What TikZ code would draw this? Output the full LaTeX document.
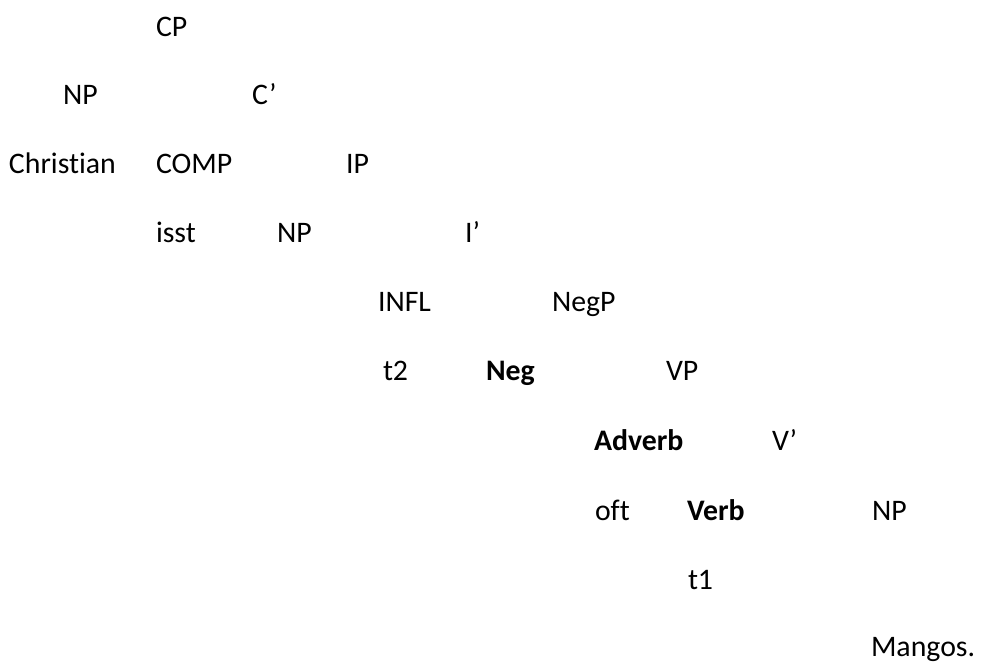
\documentclass[tikz,border=0pt]{standalone}
\usepackage{fontspec}
\setmainfont{Carlito}[Ligatures={NoCommon}]
\begin{document}
\begin{tikzpicture}[x=1pt,y=1pt,
  lbl/.style={anchor=base west,inner sep=0pt,outer sep=0pt,font=\fontsize{29.8}{36}\selectfont},
  blbl/.style={lbl,font=\fontsize{29.8}{36}\selectfont\bfseries}]
\useasboundingbox (0,0) rectangle (982,-664);
% row 0
\node[lbl] (cp) at (156,-36) {CP};
% row 1
\node[lbl] (np1) at (63,-104.5) {NP};
\node[lbl] (cbar) at (252,-104.5) {C’};
% row 2
\node[lbl] (christian) at (9,-173.5) {Christian};
\node[lbl] (comp) at (156,-173.5) {COMP};
\node[lbl] (ip) at (346,-173.5) {IP};
% row 3
\node[lbl] (isst) at (156,-242.5) {isst};
\node[lbl] (np2) at (277,-242.5) {NP};
\node[lbl] (ibar) at (465,-242.5) {I’};
% row 4
\node[lbl] (infl) at (378,-311.5) {INFL};
\node[lbl] (negp) at (552,-311.5) {NegP};
% row 5
\node[lbl] (t2) at (383,-380.5) {t2};
\node[blbl] (neg) at (486,-380.5) {Neg};
\node[lbl] (vp) at (666,-380.5) {VP};
% row 6
\node[blbl] (adverb) at (594,-450) {Adverb};
\node[lbl] (vbar) at (772,-450) {V’};
% row 7
\node[lbl] (oft) at (595,-520) {oft};
\node[blbl] (verb) at (687,-520) {Verb};
\node[lbl] (np3) at (872,-520) {NP};
% row 8
\node[lbl] (t1) at (688,-589) {t1};
% row 9
\node[lbl] (mangos) at (871,-656.5) {Mangos.};
\end{tikzpicture}
\end{document}
